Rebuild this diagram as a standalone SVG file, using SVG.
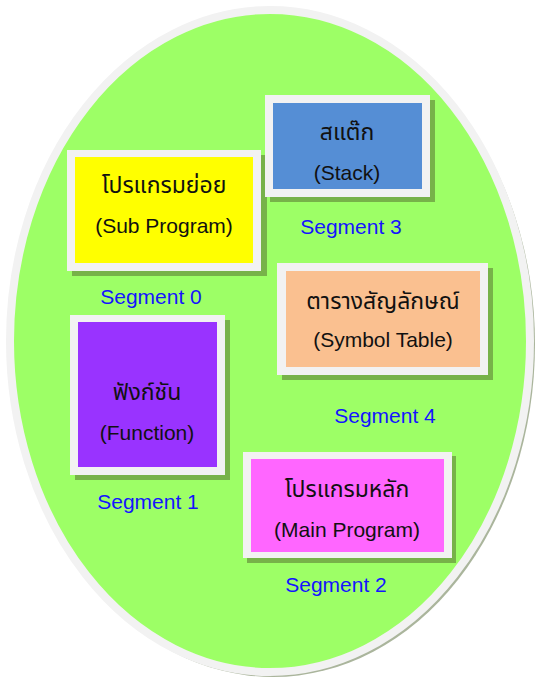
<svg xmlns="http://www.w3.org/2000/svg" width="542" height="682" viewBox="0 0 542 682">
<style>
.frame{fill:#f2f2f2}
.shadow{fill:#77b249}
.t{font-family:"Liberation Sans","Noto Sans Thai","Noto Sans",sans-serif;font-size:21px;fill:#111;text-anchor:middle}
.th{font-family:"Noto Sans Thai","Liberation Sans","Noto Sans",sans-serif;font-size:23px;fill:#111;text-anchor:middle}
.seg{font-family:"Liberation Sans",Arial,sans-serif;font-size:21px;fill:#1414ff;text-anchor:middle}
</style>
<g id="background">
<ellipse cx="273" cy="344" rx="262" ry="333" fill="#aab59c"/>
<ellipse cx="270" cy="341" rx="260" ry="331" fill="#9dff66" stroke="#f2f2f2" stroke-width="8"/>
</g>
<g id="segment0">
<rect class="shadow" x="72" y="155" width="195" height="121"/>
<rect class="frame" x="67" y="150" width="194" height="121"/>
<rect x="75" y="157" width="178" height="106" fill="#ffff00"/>
<text class="th" x="164" y="193">โปรแกรมย่อย</text>
<text class="t" x="164" y="233">(Sub Program)</text>
<text class="seg" x="151" y="304">Segment 0</text>
</g>
<g id="segment3">
<rect class="shadow" x="270" y="100" width="165" height="102"/>
<rect class="frame" x="265" y="95" width="165" height="102"/>
<rect x="273" y="103" width="149" height="86" fill="#558ed5"/>
<text class="th" x="347" y="140">สแต๊ก</text>
<text class="t" x="347" y="180">(Stack)</text>
<text class="seg" x="351" y="234">Segment 3</text>
</g>
<g id="segment4">
<rect class="shadow" x="282" y="268" width="211" height="112"/>
<rect class="frame" x="277" y="263" width="211" height="112"/>
<rect x="286" y="271" width="194" height="96" fill="#fac090"/>
<text class="th" x="383" y="309">ตารางสัญลักษณ์</text>
<text class="t" x="383" y="347">(Symbol Table)</text>
<text class="seg" x="385" y="423">Segment 4</text>
</g>
<g id="segment1">
<rect class="shadow" x="75" y="320" width="155" height="160"/>
<rect class="frame" x="70" y="315" width="155" height="160"/>
<rect x="78" y="322" width="139" height="145" fill="#9933ff"/>
<text class="th" x="147" y="400">ฟังก์ชัน</text>
<text class="t" x="147" y="440">(Function)</text>
<text class="seg" x="148" y="509">Segment 1</text>
</g>
<g id="segment2">
<rect class="shadow" x="247" y="456" width="209" height="107"/>
<rect class="frame" x="243" y="452" width="209" height="106"/>
<rect x="251" y="459" width="193" height="93" fill="#ff66ff"/>
<text class="th" x="347" y="497">โปรแกรมหลัก</text>
<text class="t" x="347" y="537">(Main Program)</text>
<text class="seg" x="336" y="592">Segment 2</text>
</g>
<g id="connectors"/>
</svg>
